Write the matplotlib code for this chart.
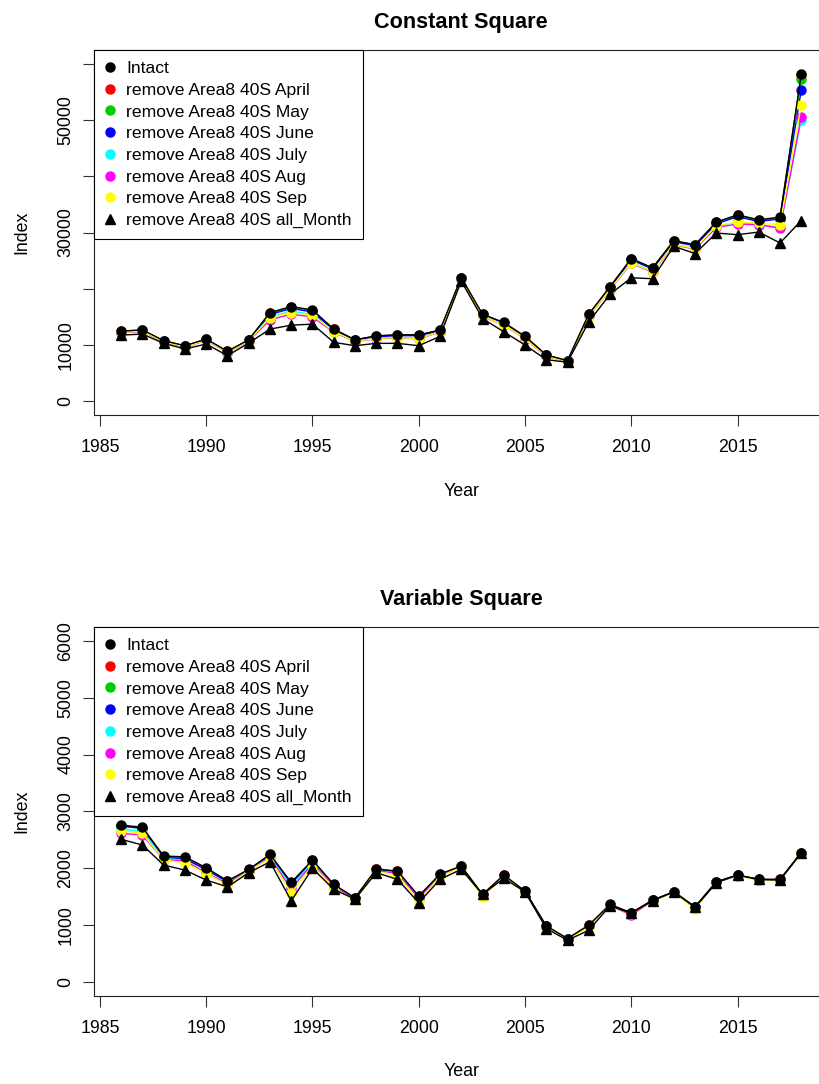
import matplotlib
matplotlib.use("Agg")
import matplotlib.pyplot as plt
from matplotlib.lines import Line2D

plt.rcParams['font.family'] = ['Liberation Sans', 'DejaVu Sans']

#-----DATA-----
years = list(range(1986, 2019))

series_names = ["Intact",
                "remove Area8 40S April",
                "remove Area8 40S May",
                "remove Area8 40S June",
                "remove Area8 40S July",
                "remove Area8 40S Aug",
                "remove Area8 40S Sep",
                "remove Area8 40S all_Month"]

# Constant Square
const_intact = [12490, 12720, 10780, 9900, 11080, 8910, 10960, 15790, 16850, 16250, 12850,
                10960, 11660, 11840, 11840, 12670, 21970, 15490, 14030, 11560, 8260, 7250,
                15490, 20380, 25380, 23730, 28550, 27850, 31850, 33140, 32260, 32730, 58140]
const_apr = [12450, 12680, 10750, 9870, 11050, 8880, 10930, 15700, 16750, 16150, 12800,
             10930, 11620, 11800, 11800, 12640, 21950, 15450, 13990, 11530, 8240, 7230,
             15460, 20330, 25320, 23680, 28500, 27800, 31780, 33070, 32190, 32660, 57900]
const_may = [12420, 12650, 10730, 9850, 11030, 8860, 10900, 15600, 16650, 16050, 12750,
             10900, 11580, 11760, 11750, 12600, 21920, 15420, 13960, 11500, 8220, 7210,
             15430, 20280, 25260, 23620, 28440, 27740, 31700, 32980, 32100, 32580, 57200]
const_jun = [12380, 12600, 10700, 9820, 11000, 8830, 10860, 15450, 16500, 15900, 12680,
             10850, 11500, 11680, 11680, 12550, 21880, 15370, 13900, 11450, 8190, 7190,
             15380, 20200, 25150, 23520, 28350, 27650, 31550, 32800, 31950, 32400, 55300]
const_jul = [12250, 12480, 10580, 9720, 10880, 8720, 10760, 15050, 16000, 15450, 12450,
             10700, 11250, 11400, 11250, 12400, 21780, 15200, 13700, 11250, 8050, 7100,
             15200, 19950, 24700, 23100, 27950, 27200, 31000, 31850, 31350, 30900, 50000]
const_aug = [12200, 12430, 10540, 9680, 10840, 8680, 10720, 14500, 15500, 15020, 12300,
             10640, 11150, 11300, 11100, 12350, 21720, 15100, 13600, 11150, 8000, 7070,
             15120, 19850, 24500, 22950, 27800, 27050, 30900, 31500, 31370, 30790, 50590]
const_sep = [12250, 12480, 10580, 9720, 10880, 8720, 10760, 14900, 15790, 15320, 12400,
             10680, 11200, 11350, 11150, 12400, 21750, 15150, 13650, 11200, 8030, 7090,
             15180, 19900, 24600, 23050, 27900, 27150, 31200, 31850, 31670, 31370, 52660]
const_all = [11790, 11960, 10320, 9320, 10200, 8130, 10380, 12850, 13550, 13730, 10500,
             9900, 10320, 10320, 9900, 11560, 21370, 14730, 12370, 10020, 7430, 6970,
             14130, 19020, 21970, 21790, 27550, 26260, 29910, 29610, 30080, 28140, 32130]

# Variable Square
var_intact = [2763, 2722, 2217, 2205, 2011, 1783, 1983, 2247, 1754, 2147, 1720,
              1484, 1990, 1954, 1514, 1901, 2042, 1544, 1884, 1602, 991, 769,
              1003, 1368, 1220, 1444, 1590, 1326, 1766, 1884, 1808, 1808, 2277]
var_apr = [2750, 2710, 2205, 2190, 1995, 1775, 1975, 2240, 1745, 2140, 1712,
           1480, 1985, 1948, 1508, 1896, 2038, 1540, 1880, 1600, 988, 767,
           1000, 1365, 1218, 1442, 1588, 1324, 1764, 1882, 1806, 1806, 2276]
var_may = [2740, 2700, 2195, 2175, 1985, 1770, 1970, 2230, 1735, 2130, 1705,
           1475, 1978, 1940, 1500, 1890, 2034, 1535, 1875, 1598, 985, 765,
           998, 1362, 1215, 1440, 1586, 1322, 1762, 1880, 1804, 1804, 2275]
var_jun = [2745, 2705, 2190, 2170, 1975, 1765, 1968, 2225, 1740, 2125, 1700,
           1472, 1975, 1938, 1498, 1888, 2032, 1532, 1872, 1596, 983, 764,
           996, 1360, 1212, 1438, 1585, 1320, 1760, 1878, 1803, 1803, 2274]
var_jul = [2690, 2650, 2170, 2150, 1900, 1745, 1960, 2200, 1690, 2110, 1690,
           1465, 1965, 1925, 1490, 1880, 2028, 1528, 1868, 1594, 978, 760,
           990, 1356, 1205, 1435, 1583, 1318, 1758, 1876, 1802, 1802, 2273]
var_aug = [2616, 2587, 2150, 2130, 1924, 1730, 1955, 2190, 1636, 2090, 1680,
           1460, 1960, 1915, 1480, 1870, 2022, 1520, 1860, 1590, 970, 752,
           985, 1350, 1180, 1432, 1580, 1310, 1755, 1874, 1800, 1800, 2272]
var_sep = [2662, 2616, 2147, 2100, 1910, 1707, 1953, 2177, 1561, 2059, 1660,
           1440, 1950, 1880, 1420, 1860, 2020, 1500, 1850, 1585, 965, 750,
           975, 1345, 1200, 1430, 1578, 1290, 1752, 1872, 1798, 1798, 2270]
var_all = [2511, 2411, 2059, 1971, 1795, 1677, 1924, 2117, 1431, 2000, 1632,
           1461, 1925, 1808, 1396, 1808, 1984, 1544, 1826, 1590, 945, 739,
           915, 1343, 1209, 1431, 1590, 1315, 1748, 1884, 1808, 1796, 2277]

x_ticks = [1985, 1990, 1995, 2000, 2005, 2010, 2015]
const_yticks = [0, 10000, 20000, 30000, 40000, 50000, 60000]
const_ylabels = ["0", "10000", "", "30000", "", "50000", ""]
var_yticks = [0, 1000, 2000, 3000, 4000, 5000, 6000]
var_ylabels = ["0", "1000", "2000", "3000", "4000", "5000", "6000"]
#--------------

colors = ["black", "#FF0000", "#00CD00", "#0000FF", "#00FFFF", "#FF00FF", "#FFFF00", "black"]
FS = 12.8


def draw_panel(ax, title, data, yticks, ylabels, ylim):
    intact, apr, may, jun, jul, aug, sep, allm = data
    # months first, then intact and all_Month on top
    for vals, col in zip([apr, may, jun, jul, aug, sep], colors[1:7]):
        ax.plot(years, vals, color=col, lw=1.0, marker='o', ms=6.5, mec=col, mfc=col)
    ax.plot(years, intact, color='black', lw=1.0, marker='o', ms=6.5)
    ax.plot(years, allm, color='black', lw=1.0, marker='^', ms=7.5)

    ax.set_xlim(1984.72, 2019.28)
    ax.set_ylim(*ylim)
    ax.set_xticks(x_ticks)
    ax.set_xticklabels([str(t) for t in x_ticks])
    ax.set_yticks(yticks)
    ax.set_yticklabels(ylabels)
    ax.tick_params(direction='out', length=8, width=0.8, labelsize=FS, color='#333333')
    ax.tick_params(axis='x', pad=9)
    ax.tick_params(axis='y', pad=6)
    for lbl in ax.get_yticklabels():
        lbl.set_rotation(90)
        lbl.set_va('center')
    for sp in ax.spines.values():
        sp.set_linewidth(0.8)
        sp.set_color('#222222')

    ax.set_title(title, fontsize=15.6, fontweight='bold', pad=16)
    ax.set_xlabel("Year", fontsize=FS)
    ax.xaxis.label.set_va('center')
    ax.set_ylabel("Index", fontsize=FS)
    ax.yaxis.label.set_va('center')

    handles = [Line2D([], [], ls='none', marker='o', ms=6.5, color=c) for c in colors[:7]]
    handles.append(Line2D([], [], ls='none', marker='^', ms=7.5, color='black'))
    leg = ax.legend(handles, series_names, loc='upper left', fontsize=12.6,
                    frameon=True, fancybox=False, framealpha=1, edgecolor='black',
                    borderaxespad=0, borderpad=0.62, handlelength=0.6,
                    handletextpad=0.62, labelspacing=0.37)
    leg.get_frame().set_linewidth(0.8)


fig = plt.figure(figsize=(8.19, 10.84), dpi=100)

ax1 = fig.add_axes([94 / 819, 1 - 415 / 1084, 734.5 / 819, 365 / 1084])
draw_panel(ax1, "Constant Square",
           [const_intact, const_apr, const_may, const_jun, const_jul, const_aug, const_sep, const_all],
           const_yticks, const_ylabels, (-2400, 62400))
ax1.xaxis.set_label_coords(0.5, -77 / 365)
ax1.yaxis.set_label_coords(-72 / 734.5, 0.5)

ax2 = fig.add_axes([94 / 819, 1 - 996 / 1084, 734.5 / 819, 369 / 1084])
draw_panel(ax2, "Variable Square",
           [var_intact, var_apr, var_may, var_jun, var_jul, var_aug, var_sep, var_all],
           var_yticks, var_ylabels, (-240, 6240))
ax2.xaxis.set_label_coords(0.5, -76 / 369)
ax2.yaxis.set_label_coords(-72 / 734.5, 0.5)

fig.savefig("out.png", dpi=100)
